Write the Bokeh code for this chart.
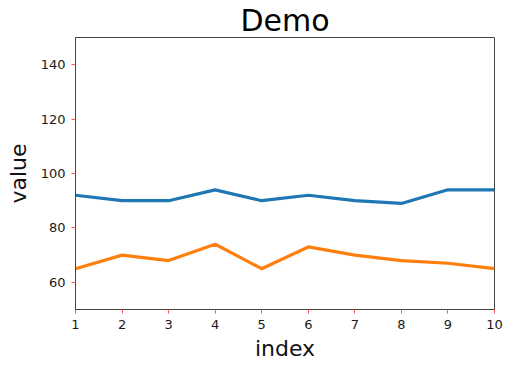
from bokeh.plotting import figure
from bokeh.models import Range1d, FixedTicker
from bokeh.embed import file_html
from bokeh.resources import INLINE

index = [1, 2, 3, 4, 5, 6, 7, 8, 9, 10]
series_a = [92, 90, 90, 94, 90, 92, 90, 89, 94, 94]
series_b = [65, 70, 68, 74, 65, 73, 70, 68, 67, 65]
x_ticks = [1, 2, 3, 4, 5, 6, 7, 8, 9, 10]
y_ticks = [60, 80, 100, 120, 140]

FONT = "DejaVu Sans"

p = figure(frame_width=419, frame_height=272, output_backend="svg", toolbar_location=None,
           x_range=Range1d(1, 10), y_range=Range1d(50, 150),
           title="Demo", min_border_left=75, min_border_right=18,
           min_border_top=30, min_border_bottom=50)

p.line(index, series_a, line_color="#1f77b4", line_width=3.2)
p.line(index, series_b, line_color="#ff7f0e", line_width=3.2)

p.title.text_font = FONT
p.title.text_font_size = "30px"
p.title.text_font_style = "normal"
p.title.align = "center"
p.title.text_color = "#000000"
p.title.standoff = 0
p.title.offset = 0
p.title.text_line_height = 0.9

p.xgrid.visible = False
p.ygrid.visible = False
p.outline_line_color = "#444444"
p.outline_line_width = 1

for ax in (p.xaxis[0], p.yaxis[0]):
    ax.major_label_text_font = FONT
    ax.major_label_text_font_size = "13px"
    ax.major_label_text_color = "#1a1a1a"
    ax.axis_label_text_font = FONT
    ax.axis_label_text_font_size = "22px"
    ax.axis_label_text_font_style = "normal"
    ax.axis_label_text_color = "#111111"
    ax.major_tick_line_color = "#ff5555"
    ax.major_tick_out = 4
    ax.major_tick_in = 0
    ax.minor_tick_line_color = None
    ax.axis_line_color = "#444444"
    ax.major_label_standoff = 6

p.xaxis.ticker = FixedTicker(ticks=x_ticks)
p.yaxis.ticker = FixedTicker(ticks=y_ticks)
p.xaxis.axis_label = "index"
p.yaxis.axis_label = "value"
p.xaxis.axis_label_standoff = 4
p.yaxis.axis_label_standoff = 7

open("out.html", "w").write(file_html(p, INLINE))
